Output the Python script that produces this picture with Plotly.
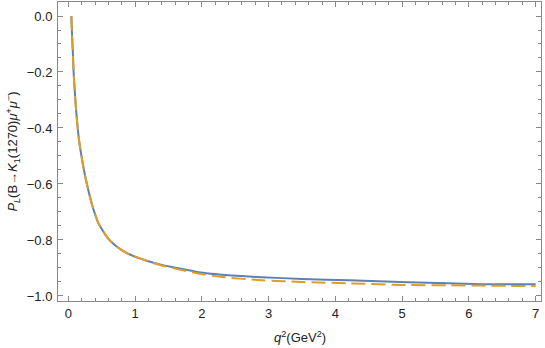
import plotly.graph_objects as go

q2 = [0.045, 0.055, 0.066, 0.081, 0.105, 0.13, 0.16, 0.2, 0.24, 0.3, 0.37, 0.45,
      0.5, 0.6, 0.7, 0.8, 0.92, 1.05, 1.2, 1.4, 1.65, 1.95, 2.3, 2.9, 3.5, 4.2,
      5.1, 5.7, 6.2, 6.6, 7.0]
pl_solid = [0.0, -0.065, -0.121, -0.21, -0.30, -0.375, -0.443, -0.505, -0.558, -0.623,
            -0.686, -0.740, -0.761, -0.796, -0.819, -0.836, -0.852, -0.864, -0.876,
            -0.889, -0.901, -0.915, -0.924, -0.933, -0.939, -0.944, -0.951, -0.955,
            -0.958, -0.958, -0.958]
pl_dashed = [0.0, -0.065, -0.121, -0.21, -0.30, -0.375, -0.443, -0.505, -0.558, -0.623,
             -0.686, -0.740, -0.761, -0.796, -0.819, -0.836, -0.852, -0.864, -0.877,
             -0.891, -0.905, -0.920, -0.932, -0.944, -0.950, -0.955, -0.961, -0.962,
             -0.963, -0.964, -0.965]

x_ticks = [0, 1, 2, 3, 4, 5, 6, 7]
y_ticks = [0.0, -0.2, -0.4, -0.6, -0.8, -1.0]

fig = go.Figure()
fig.add_trace(go.Scatter(x=q2, y=pl_solid, mode="lines",
                         line=dict(color="#5E81B5", width=2, shape="spline", smoothing=0.8)))
fig.add_trace(go.Scatter(x=q2, y=pl_dashed, mode="lines",
                         line=dict(color="#E19C24", width=2, dash="14px,6px",
                                   shape="spline", smoothing=0.8)))

FONT = "Liberation Sans, Arial"
axis_common = dict(
    showgrid=False, zeroline=False, showline=True, linecolor="#888888", linewidth=1,
    mirror="ticks", ticks="inside", ticklen=5, tickwidth=1, tickcolor="#888888",
    tickfont=dict(family=FONT, size=13, color="#222222"), automargin=False,
)

fig.update_layout(
    width=545, height=348,
    margin=dict(l=58, r=4, t=2, b=47),
    paper_bgcolor="white", plot_bgcolor="white",
    showlegend=False,
    font=dict(family=FONT, size=13, color="#222222"),
    xaxis=dict(range=[-0.155, 7.08], tickvals=x_ticks, ticktext=[str(v) for v in x_ticks],
               minor=dict(dtick=0.2, tick0=0, ticklen=3, tickcolor="#888888", ticks="inside"),
               **axis_common),
    yaxis=dict(range=[-1.018, 0.05], tickvals=y_ticks, tickformat=".1f",
               minor=dict(dtick=0.05, tick0=0, ticklen=3, tickcolor="#888888", ticks="inside"),
               ticklabelstandoff=2,
               **axis_common),
    annotations=[
        dict(text="<i>q</i><sup>2</sup>(GeV<sup>2</sup>)", xref="paper", yref="paper",
             x=0.5, y=-0.12, xanchor="center", yanchor="middle", showarrow=False,
             font=dict(family=FONT, size=13, color="#222222")),
        dict(text="<i>P</i><sub><i>L</i></sub>(B→<i>K</i><sub>1</sub>(1270)<i>μ</i><sup>+</sup><i>μ</i><sup>−</sup>)",
             xref="paper", yref="paper", x=-0.095, y=0.5, xanchor="center", yanchor="middle",
             textangle=-90, showarrow=False,
             font=dict(family=FONT, size=13, color="#222222")),
    ],
)

fig.write_html("out.html", config={"displayModeBar": False},
               post_script="document.body.style.margin='0';document.body.style.padding='0';")
